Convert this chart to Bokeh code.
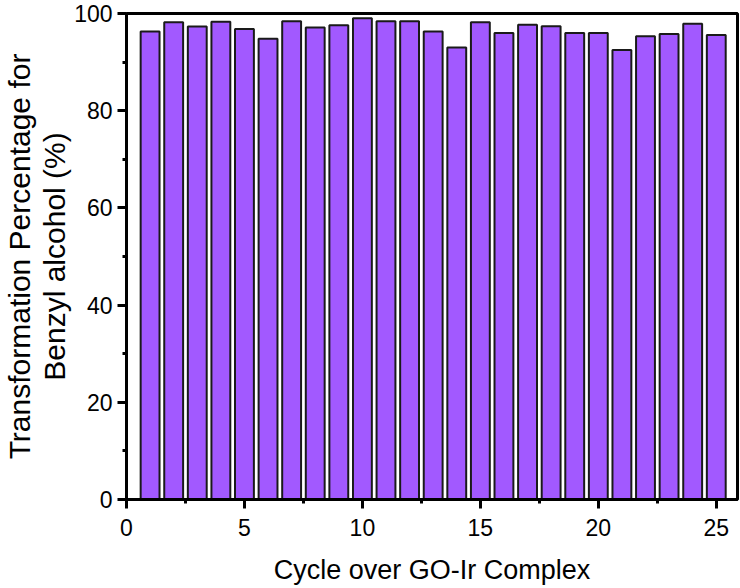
from bokeh.plotting import figure
from bokeh.models import FixedTicker, Range1d, ColumnDataSource
from bokeh.embed import file_html
from bokeh.resources import INLINE

cycles = list(range(1, 26))
conversion = [96.3, 98.2, 97.3, 98.3, 96.8, 94.8, 98.4, 97.1, 97.6, 99.0,
              98.4, 98.4, 96.3, 93.0, 98.2, 96.0, 97.7, 97.4, 96.0, 96.0,
              92.5, 95.3, 95.8, 97.9, 95.6]
x_ticks = [0, 5, 10, 15, 20, 25]
x_minor = [2.5, 7.5, 12.5, 17.5, 22.5]
y_ticks = [0, 20, 40, 60, 80, 100]
y_minor = [10, 30, 50, 70, 90]
y_title_lines = ["Transformation Percentage for", "Benzyl alcohol (%)"]

src = ColumnDataSource(dict(x=cycles, y=conversion))

FONT = "Liberation Sans"

p = figure(width=740, height=588, output_backend="svg", toolbar_location=None,
           x_range=Range1d(0, 25.9), y_range=Range1d(0, 100),
           min_border_left=125, min_border_right=3, min_border_top=13, min_border_bottom=89)

p.vbar(x="x", top="y", width=0.8, source=src, fill_color="#A259FF",
       line_color="#1a1a1a", line_width=2)

p.grid.visible = False
p.outline_line_color = "black"
p.outline_line_width = 3
p.outline_line_alpha = 1.0

p.xaxis.ticker = FixedTicker(ticks=x_ticks, minor_ticks=x_minor)
p.yaxis.ticker = FixedTicker(ticks=y_ticks, minor_ticks=y_minor)

for ax in (p.xaxis[0], p.yaxis[0]):
    ax.axis_line_width = 3
    ax.axis_line_color = "black"
    ax.major_tick_line_width = 3
    ax.minor_tick_line_width = 3
    ax.major_tick_in = 0
    ax.major_tick_out = 9
    ax.minor_tick_in = 0
    ax.minor_tick_out = 4
    ax.major_label_text_font = FONT
    ax.major_label_text_font_size = "23px"
    ax.major_label_text_color = "black"
    ax.axis_label_text_font = FONT
    ax.axis_label_text_font_style = "normal"
    ax.axis_label_text_color = "black"

p.xaxis.axis_label = "Cycle over GO-Ir Complex"
p.xaxis.axis_label_text_font_size = "27px"
p.xaxis.major_label_standoff = 10
p.xaxis.axis_label_standoff = 16

p.yaxis.axis_label = "\n".join(y_title_lines)
p.yaxis.axis_label_text_font_size = "30px"
p.yaxis.axis_label_text_align = "center"
p.yaxis.axis_label_text_line_height = 1.05
p.yaxis.major_label_standoff = 5
p.yaxis.axis_label_standoff = 0

open("out.html", "w").write(file_html(p, INLINE))
